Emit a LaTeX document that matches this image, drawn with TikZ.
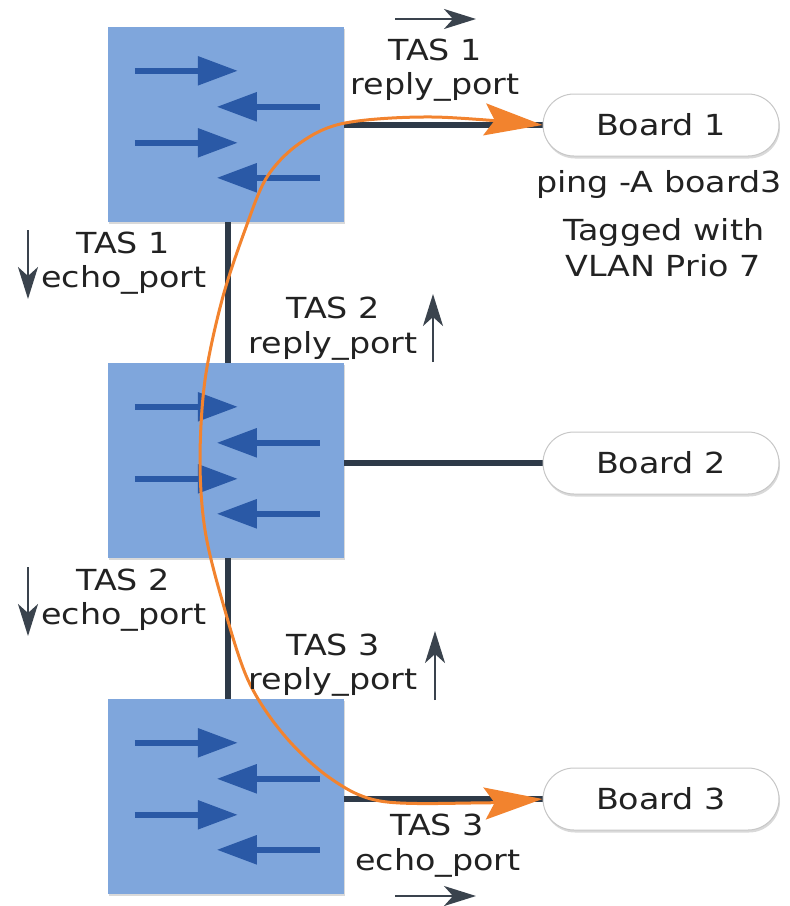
\documentclass[tikz,border=0pt]{standalone}
\usepackage{fontspec}
\setmainfont{DejaVu Sans}[FakeStretch=1.15]
\usetikzlibrary{arrows.meta,shadows}
\definecolor{swfill}{HTML}{7FA6DC}
\definecolor{swarrowc}{HTML}{2A59A6}
\definecolor{linkc}{HTML}{2E3A48}
\definecolor{lblarrowc}{HTML}{3A434D}
\definecolor{routec}{HTML}{F2832E}
\definecolor{txt}{HTML}{222222}
\begin{document}
\begin{tikzpicture}[x=1pt,y=-1pt,
  every node/.style={text=txt, font=\fontsize{29}{35}\selectfont},
  switchbox/.style={fill=swfill, minimum width=236pt, minimum height=195pt, inner sep=0pt,
    drop shadow={shadow xshift=0.5pt, shadow yshift=-2pt, opacity=0.3}},
  boardbox/.style={draw=black!22, line width=1pt, fill=white, rounded corners=31pt,
    minimum width=236pt, minimum height=62pt, inner sep=0pt,
    drop shadow={shadow xshift=1pt, shadow yshift=-2.5pt, opacity=0.3}},
  swarrow/.style={draw=swarrowc, line width=5.5pt, -{Triangle[length=40pt,width=28pt]}},
  link/.style={draw=linkc, line width=6.5pt},
  portarrow/.style={draw=lblarrowc, line width=2.5pt, -{Stealth[length=32pt,width=20pt,inset=9pt]}},
  route/.style={draw=routec, line width=3pt,
    {Stealth[length=58pt,width=32pt,inset=10pt]}-{Stealth[length=58pt,width=32pt,inset=10pt]}},
  lbl/.style={anchor=base, inner sep=0pt}
]
\useasboundingbox (0,0) rectangle (790,906);

% switches
\node[switchbox] (sw1) at (226,124.5) {};
\node[switchbox] (sw2) at (226,460.5) {};
\node[switchbox] (sw3) at (226,796.5) {};

% queue arrows inside each switch
\foreach \s in {sw1,sw2,sw3}{
  \draw[swarrow] ([shift={(27,44)}]\s.north west) -- ++(103,0);
  \draw[swarrow] ([shift={(212,80)}]\s.north west) -- ++(-103,0);
  \draw[swarrow] ([shift={(27,116)}]\s.north west) -- ++(103,0);
  \draw[swarrow] ([shift={(212,151)}]\s.north west) -- ++(-103,0);
}

% boards
\coordinate (p1) at (661,125);
\coordinate (p2) at (661,463);
\coordinate (p3) at (661,799);

% links
\draw[link] ([xshift=2pt]sw1.south) -- ([xshift=2pt]sw2.north);
\draw[link] ([xshift=2pt]sw2.south) -- ([xshift=2pt]sw3.north);
\draw[link] (sw1.east |- p1) -- (p1);
\draw[link] (sw2.east |- p2) -- (p2);
\draw[link] (sw3.east |- p3) -- (p3);

\node[boardbox] (b1) at (p1) {Board 1};
\node[boardbox] (b2) at (p2) {Board 2};
\node[boardbox] (b3) at (p3) {Board 3};

% ping route from board 1 to board 3 and back
\draw[route] plot[smooth, tension=0.55] coordinates {
  (b3.west) (470,803) (380,801) (330,778) (284,735) (248,680) (222,600)
  (205,530) (200,460) (205,380) (222,300) (245,230) (267,177) (300,143)
  (345,123) (433,117) (b1.west)};

% board 1 notes
\node[lbl] (n1) at (659,192) {ping -A board3};
\node[lbl] (n2) at (664,240) {Tagged with};
\node[lbl] (n3) at (663,276) {VLAN Prio 7};

% port labels
\node[lbl] (t1a) at (435,60) {TAS 1};
\node[lbl] (t1b) at (435,94) {reply\_port};
\node[lbl] (e1a) at (123,253) {TAS 1};
\node[lbl] (e1b) at (124,287) {echo\_port};
\node[lbl] (t2a) at (333,318) {TAS 2};
\node[lbl] (t2b) at (333,353) {reply\_port};
\node[lbl] (e2a) at (123,590) {TAS 2};
\node[lbl] (e2b) at (124,624) {echo\_port};
\node[lbl] (t3a) at (333,655) {TAS 3};
\node[lbl] (t3b) at (333,689) {reply\_port};
\node[lbl] (e3a) at (437,835) {TAS 3};
\node[lbl] (e3b) at (438,870) {echo\_port};

% direction arrows of the ports
\coordinate (d1s) at (395,19);  \coordinate (d1e) at (476,19);
\coordinate (d2s) at (28,230);  \coordinate (d2e) at (28,299);
\coordinate (d3s) at (433,362); \coordinate (d3e) at (433,294);
\coordinate (d4s) at (28,567);  \coordinate (d4e) at (28,636);
\coordinate (d5s) at (435,700); \coordinate (d5e) at (435,631);
\coordinate (d6s) at (395,896); \coordinate (d6e) at (476,896);
\foreach \a in {1,...,6}{\draw[portarrow] (d\a s) -- (d\a e);}
\end{tikzpicture}
\end{document}
